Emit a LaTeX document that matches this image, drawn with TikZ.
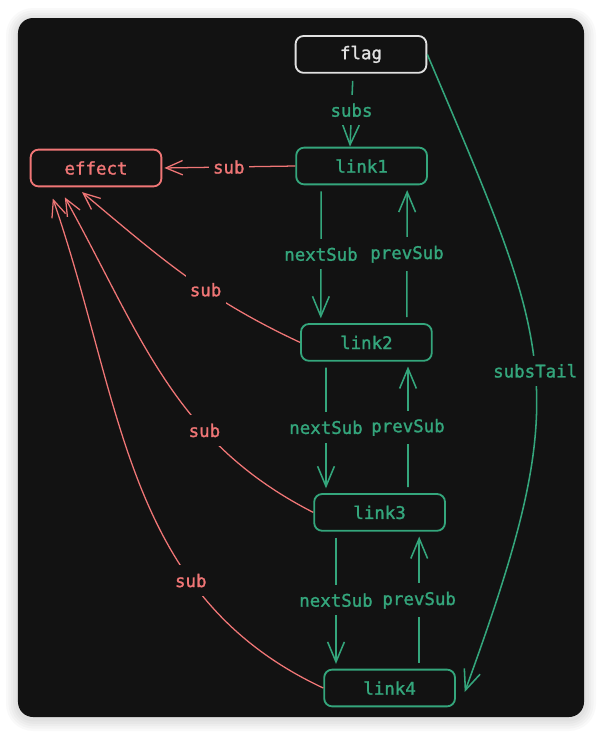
\documentclass[tikz,border=0pt]{standalone}
\usepackage{fontspec}
\newfontfamily\codefont[FakeBold=1.4]{DejaVu Sans Mono}
\usetikzlibrary{arrows.meta}
\definecolor{boardbg}{RGB}{18,18,18}
\definecolor{linkgreen}{RGB}{52,166,124}
\definecolor{subred}{RGB}{240,118,118}
\definecolor{flagwhite}{RGB}{225,225,225}

\begin{document}
\begin{tikzpicture}[
    every node/.style={font=\fontsize{12.4pt}{14pt}\selectfont\codefont},
    box/.style={rectangle, draw, rounded corners=0.2cm, minimum width=3.27cm, minimum height=0.92cm, line width=1.3pt, inner sep=0pt},
    linkbox/.style={box, draw=linkgreen, text=linkgreen},
    effectbox/.style={box, draw=subred, text=subred},
    flagbox/.style={box, draw=flagwhite, text=flagwhite},
    garrow/.style={-{Straight Barb[length=0.5cm, width=0.42cm]}, draw=linkgreen, line width=1.1pt},
    rarrow/.style={-{Straight Barb[length=0.42cm, width=0.36cm]}, draw=subred, line width=0.9pt},
    glabel/.style={fill=boardbg, text=linkgreen, inner xsep=2pt, inner ysep=6pt},
    rlabel/.style={fill=boardbg, text=subred, inner xsep=3pt, inner ysep=6pt},
    gap/.style={shorten <=0.15cm, shorten >=0.12cm}
]
% -------------------------
% Board
% -------------------------
    \useasboundingbox (0, 0) rectangle (15.05, -18.375);
    \fill[white] (0, 0) rectangle (15.05, -18.375);
    \foreach \k in {1,...,5}
        \fill[black, opacity=0.025, rounded corners=0.375cm+\k*0.06cm]
            (0.45-\k*0.06, -0.45+\k*0.06-0.05) rectangle (14.6+\k*0.06, -17.925-\k*0.06-0.05);
    \fill[boardbg, rounded corners=0.375cm] (0.45, -0.45) rectangle (14.6, -17.925);

% -------------------------
% Nodes
% -------------------------
    \node[flagbox] (flag) at (9.025, -1.36) {flag};
    \node[effectbox] (effect) at (2.4, -4.2) {effect};
    \node[linkbox] (link1) at (9.04, -4.15) {link1};
    \node[linkbox] (link2) at (9.16, -8.56) {link2};
    \node[linkbox] (link3) at (9.49, -12.81) {link3};
    \node[linkbox] (link4) at (9.74, -17.2) {link4};

% -------------------------
% Green arrows
% -------------------------
    \draw[garrow, shorten <=0.18cm] ([xshift=-0.2cm]flag.south) -- node[glabel] {subs} ([xshift=-0.29cm]link1.north);

    \draw[garrow, gap] ([xshift=-1.01cm]link1.south) -- node[glabel] {nextSub} ([xshift=-1.14cm]link2.north);
    \draw[garrow, gap] ([xshift=1.01cm]link2.north) -- node[glabel] {prevSub} ([xshift=1.14cm]link1.south);

    \draw[garrow, gap] ([xshift=-1.01cm]link2.south) -- node[glabel] {nextSub} ([xshift=-1.34cm]link3.north);
    \draw[garrow, gap] ([xshift=0.71cm]link3.north) -- node[glabel] {prevSub} ([xshift=1.04cm]link2.south);

    \draw[garrow, gap] ([xshift=-1.09cm]link3.south) -- node[glabel] {nextSub} ([xshift=-1.34cm]link4.north);
    \draw[garrow, gap] ([xshift=0.74cm]link4.north) -- node[glabel] {prevSub} ([xshift=0.99cm]link3.south);

% subsTail from flag round the right side
    \draw[garrow] (flag.east) to[out=-67, in=70, looseness=1.3] node[glabel] {subsTail} ([xshift=0.22cm, yshift=-0.1cm]link4.east);

% -------------------------
% Red arrows to effect
% -------------------------
    \draw[rarrow, shorten >=0.05cm] (link1.west) -- node[rlabel] {sub} (effect.east);
    \draw[rarrow] (link2.west) to[out=155, in=-40] node[rlabel, pos=0.4] {sub} ([xshift=-0.35cm, yshift=-0.12cm]effect.south);
    \draw[rarrow] (link3.west) to[out=153, in=-61] node[rlabel, pos=0.33] {sub} ([xshift=-0.78cm, yshift=-0.25cm]effect.south);
    \draw[rarrow] (link4.west) to[out=155, in=-71] node[rlabel, pos=0.3] {sub} ([xshift=-1.08cm, yshift=-0.28cm]effect.south);
\end{tikzpicture}
\end{document}
